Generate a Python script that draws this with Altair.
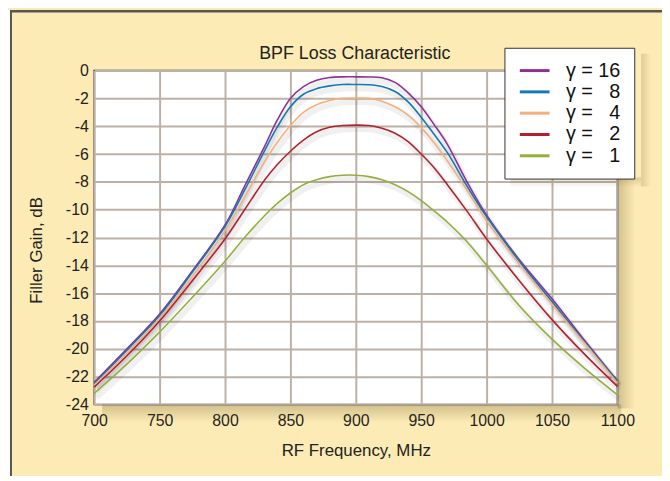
import altair as alt
import pandas as pd

# ---- data ----
title_text = "BPF Loss Characteristic"
freqs = [700, 725, 750, 775, 800, 815, 830, 840, 850, 860, 870, 880, 890, 900,
         910, 920, 930, 940, 950, 960, 970, 985, 1000, 1025, 1050, 1075, 1100]

g16 = [-22.4, -20.0, -17.5, -14.4, -11.1, -8.3, -5.5, -3.55, -2.0, -1.15, -0.7, -0.5, -0.45, -0.45,
       -0.46, -0.52, -0.85, -1.6, -2.6, -3.9, -5.3, -8.0, -10.4, -13.6, -16.4, -19.4, -22.3]
g8 = [-22.5, -20.1, -17.6, -14.5, -11.2, -8.6, -5.8, -4.05, -2.6, -1.7, -1.3, -1.1, -1.0, -1.0,
      -1.02, -1.15, -1.5, -2.25, -3.35, -4.6, -5.9, -8.3, -10.5, -13.7, -16.6, -19.5, -22.35]
g4 = [-22.6, -20.3, -17.8, -14.8, -11.5, -9.1, -6.6, -5.15, -3.95, -3.0, -2.45, -2.15, -2.0, -1.97,
      -2.0, -2.2, -2.6, -3.2, -4.1, -5.2, -6.5, -8.6, -10.8, -13.9, -16.8, -19.6, -22.45]
g2 = [-22.75, -20.5, -18.0, -15.1, -12.1, -10.0, -7.9, -6.75, -5.8, -5.0, -4.4, -4.08, -3.95, -3.92,
      -3.95, -4.15, -4.5, -5.1, -6.0, -7.0, -8.2, -10.1, -12.1, -15.1, -17.9, -20.4, -22.7]
g1 = [-23.2, -21.1, -18.8, -16.3, -13.7, -12.0, -10.45, -9.55, -8.8, -8.2, -7.85, -7.62, -7.52, -7.52,
      -7.62, -7.85, -8.2, -8.7, -9.35, -10.1, -10.9, -12.3, -14.0, -16.9, -19.3, -21.4, -23.3]

labels = ["γ = 16", "γ = \u20078", "γ = \u20074", "γ = \u20072", "γ = \u20071"]
series = [g16, g8, g4, g2, g1]
colors = ["#8C3296", "#1478B4", "#F5B07A", "#B5202E", "#93AF3C"]

x_ticks = [700, 750, 800, 850, 900, 950, 1000, 1050, 1100]
y_ticks = [0, -2, -4, -6, -8, -10, -12, -14, -16, -18, -20, -22, -24]

rows = []
for lab, vals in zip(labels, series):
    for f, v in zip(freqs, vals):
        rows.append({"freq": f, "gain": v, "gamma": lab})
df = pd.DataFrame(rows)

FONT = "Liberation Sans"
BG = "#FCEBB4"
W, H = 528, 337
LX, LY = 414, -23  # legend box position (plot pixels)
LW = 138

x_enc = alt.X("freq:Q", scale=alt.Scale(domain=[700, 1100], nice=False),
              axis=alt.Axis(values=x_ticks, title="RF Frequency, MHz", labelExpr="datum.value + ''",
                            titleY=46, titleBaseline="middle", labelPadding=8, labelFlush=False))
y_enc = alt.Y("gain:Q", scale=alt.Scale(domain=[-24, 0], nice=False),
              axis=alt.Axis(values=y_ticks, title="Filler Gain, dB", labelExpr="datum.value + ''",
                            titleX=-58, titleY=181, titleBaseline="middle", labelPadding=6))

one = alt.Data(values=[{}])


def grad(horizontal):
    return alt.Gradient(gradient="linear",
                        stops=[alt.GradientStop(color="rgba(110,90,40,0.30)", offset=0),
                               alt.GradientStop(color="rgba(110,90,40,0)", offset=1)],
                        x1=0, x2=1 if horizontal else 0, y1=0, y2=0 if horizontal else 1)


# soft shadow around the plot area
shade_r = alt.Chart(one).mark_rect(color=grad(True)).encode(
    x=alt.value(W), x2=alt.value(W + 18), y=alt.value(8), y2=alt.value(H + 4))
shade_b = alt.Chart(one).mark_rect(color=grad(False)).encode(
    x=alt.value(8), x2=alt.value(W + 4), y=alt.value(H), y2=alt.value(H + 18))

# soft shadow of the legend box
lshade_r = alt.Chart(one).mark_rect(color=grad(True), opacity=0.7).encode(
    x=alt.value(LX + LW), x2=alt.value(LX + LW + 10), y=alt.value(LY + 6), y2=alt.value(LY + 140))
lshade_b = alt.Chart(one).mark_rect(color=grad(False), opacity=0.7).encode(
    x=alt.value(LX + 6), x2=alt.value(LX + LW), y=alt.value(LY + 131), y2=alt.value(LY + 141))

# frame of the page
frame_white = alt.Chart(one).mark_rect(color="white").encode(
    x=alt.value(-87), x2=alt.value(-85), y=alt.value(-61), y2=alt.value(H + 80))
frame_left = alt.Chart(one).mark_rule(color="#555", strokeWidth=2).encode(
    x=alt.value(-84), y=alt.value(-61), y2=alt.value(H + 80))
frame_top = alt.Chart(one).mark_rule(color="#555", strokeWidth=2.5).encode(
    x=alt.value(-85), x2=alt.value(W + 60), y=alt.value(-59.8))

title = alt.Chart(one).mark_text(font=FONT, fontSize=18, color="#222", align="center",
                                 baseline="alphabetic").encode(
    x=alt.value(263), y=alt.value(-12), text=alt.value(title_text))

shadow = alt.Chart(df).mark_line(color="#000", opacity=0.06, strokeWidth=6, xOffset=2, yOffset=4,
                                 interpolate="catmull-rom").encode(
    x=x_enc, y=y_enc, detail="gamma:N")

lines = alt.Chart(df).mark_line(strokeWidth=1.6, interpolate="catmull-rom").encode(
    x=x_enc, y=y_enc,
    color=alt.Color("gamma:N", scale=alt.Scale(domain=labels, range=colors),
                    legend=alt.Legend(title=None, orient="none", legendX=LX, legendY=LY,
                                      fillColor="white", strokeColor="#333", padding=13,
                                      symbolType="M-1,0H3", symbolSize=225, symbolStrokeWidth=3,
                                      labelFont=FONT, labelFontSize=20, labelColor="#111",
                                      labelOffset=29, rowPadding=1.5,
                                      labelExpr="datum.label + '\u2007\u2007'"))
)

chart = alt.layer(frame_white, frame_left, frame_top, shade_r, shade_b, shadow, lines,
                  lshade_r, lshade_b, title).properties(
    width=W, height=H,
    padding={"left": 87, "top": 61, "right": 45, "bottom": 70},
    autosize=alt.AutoSizeParams(type="none"),
    background=BG,
).configure_view(
    fill="white", stroke="#333", strokeWidth=1.5
).configure_axis(
    grid=True, gridColor="#BDB0A6", gridWidth=2, domain=False, ticks=False,
    labelFont=FONT, labelFontSize=16, labelColor="#222",
    titleFont=FONT, titleFontSize=17, titleFontWeight="normal", titleColor="#222"
)

chart.save("out.html", embed_options={"renderer": "svg", "actions": False})
